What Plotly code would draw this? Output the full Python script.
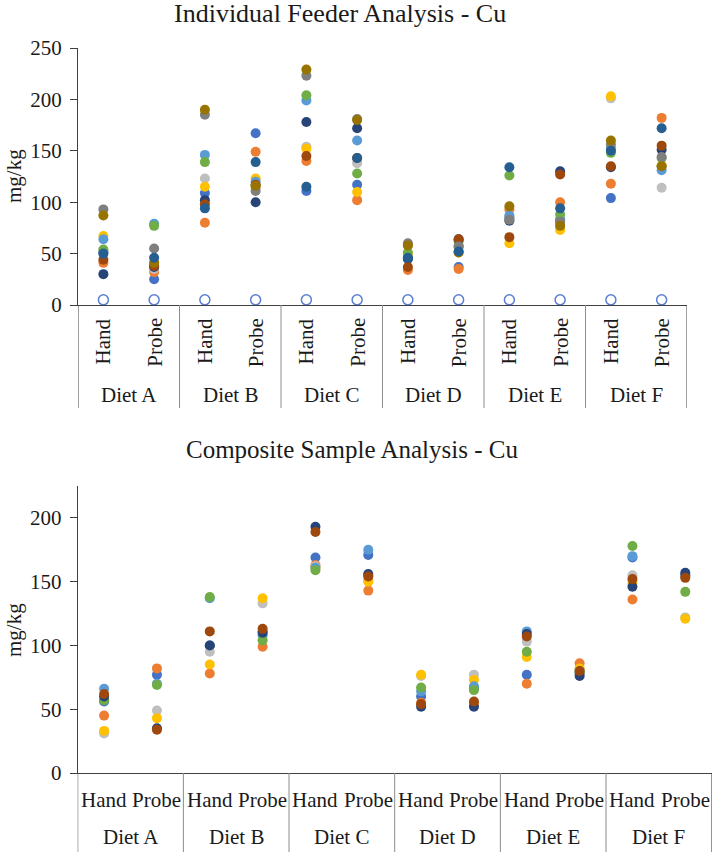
import plotly.graph_objects as go

W, H = 714, 852

diets = ["Diet A", "Diet B", "Diet C", "Diet D", "Diet E", "Diet F"]
methods = ["Hand", "Probe"]

# Individual feeder analysis (order: A-Hand, A-Probe, B-Hand, ... F-Probe)
ind_series = {
    "s1":  [51, 25, 109, 167, 111, 117, 45, 37, 85, 83, 104, 135],
    "s2":  [41, 32, 80, 149, 140, 102, 34, 35, 93, 100, 118, 182],
    "s3":  [53, 35, 123, 114, 154, 138, 58, 57, 84, 77, 201, 114],
    "s4":  [67, 40, 115, 123, 152, 110, 50, 51, 60, 73, 203, 136],
    "s5":  [64, 79, 146, 120, 199, 160, 46, 57, 87, 81, 152, 131],
    "s6":  [54, 77, 139, 116, 204, 128, 51, 62, 126, 88, 148, 143],
    "s7":  [30, 37, 102, 100, 178, 172, 45, 64, 82, 130, 134, 151],
    "s8":  [44, 38, 98, 117, 145, 143, 37, 64, 66, 127, 135, 155],
    "s9":  [93, 55, 185, 111, 223, 181, 60, 57, 83, 81, 156, 144],
    "s10": [87, 41, 190, 116, 229, 180, 58, 51, 96, 77, 160, 135],
    "s11": [50, 46, 94, 139, 115, 143, 46, 52, 134, 94, 150, 172],
}
ind_open = [5, 5, 5, 5, 5, 5, 5, 5, 5, 5, 5, 5]

# Composite sample analysis
comp_series = {
    "s1": [56, 77, 100, 111, 169, 171, 60, 66, 77, 78, 169, 155],
    "s2": [45, 82, 78, 99, 163, 143, 55, 54, 70, 86, 136, 154],
    "s3": [31, 49, 95, 133, 162, 151, 76, 77, 103, 81, 155, 122],
    "s4": [33, 43, 85, 137, 161, 150, 77, 73, 91, 82, 149, 121],
    "s5": [66, 70, 137, 108, 161, 175, 64, 68, 111, 80, 170, 155],
    "s6": [57, 69, 138, 104, 159, 155, 67, 65, 95, 79, 178, 142],
    "s7": [60, 35, 100, 110, 193, 156, 52, 52, 109, 76, 146, 157],
    "s8": [62, 34, 111, 113, 189, 154, 54, 56, 107, 80, 152, 153],
}

colors = {
    "s1": "#4472C4", "s2": "#ED7D31", "s3": "#BFBFBF", "s4": "#FFC000",
    "s5": "#5B9BD5", "s6": "#70AD47", "s7": "#264478", "s8": "#9E480E",
    "s9": "#7F7F7F", "s10": "#997300", "s11": "#255E91",
}

cats = [(d, m) for d in diets for m in methods]
xpos = [i + 0.5 for i in range(len(cats))]

FONT = "Liberation Serif"
AX = "#404040"
SEP = "#8C8C8C"
TXT = "#1a1a1a"

def py(p):  # pixel y -> paper y
    return (H - p) / H

def px(p):
    return p / W

fig = go.Figure()

for k, vals in ind_series.items():
    fig.add_trace(go.Scatter(x=xpos, y=vals, mode="markers", xaxis="x", yaxis="y",
                             marker=dict(size=10, color=colors[k], line=dict(width=0)),
                             showlegend=False, hoverinfo="skip"))
fig.add_trace(go.Scatter(x=xpos, y=ind_open, mode="markers", xaxis="x", yaxis="y",
                         marker=dict(size=10, color="white", line=dict(width=1.5, color="#5B7FD0")),
                         showlegend=False, hoverinfo="skip"))
for k, vals in comp_series.items():
    fig.add_trace(go.Scatter(x=xpos, y=vals, mode="markers", xaxis="x2", yaxis="y2",
                             marker=dict(size=10, color=colors[k], line=dict(width=0)),
                             showlegend=False, hoverinfo="skip"))

ax_common = dict(showgrid=False, zeroline=False, showline=True, linecolor=AX, linewidth=1)
yt = dict(ticks="outside", ticklen=7, tickcolor=AX, tickfont=dict(size=21, family=FONT, color=TXT),
          ticklabelstandoff=4, dtick=50)
fig.update_layout(
    width=W, height=H, margin=dict(l=0, r=0, t=0, b=0, autoexpand=False),
    plot_bgcolor="white", paper_bgcolor="white",
    font=dict(family=FONT, color=TXT),
    xaxis=dict(domain=[px(78), px(687)], range=[0, 12], showticklabels=False, ticks="",
               anchor="y", **ax_common),
    yaxis=dict(domain=[py(305), py(48)], range=[0, 250], anchor="x", **yt, **ax_common),
    xaxis2=dict(domain=[px(77.7), px(711.7)], range=[0, 12], showticklabels=False, ticks="",
                anchor="y2", **ax_common),
    yaxis2=dict(domain=[py(773), py(486)], range=[0, 225], anchor="x2", **yt, **ax_common),
)

shapes = []
ann = []

def note(**kw):
    kw.setdefault("showarrow", False)
    kw.setdefault("xanchor", "center")
    kw.setdefault("yanchor", "middle")
    ann.append(kw)

for g in range(len(diets) + 1):
    col = SEP if 0 < g < len(diets) else AX
    shapes.append(dict(type="line", xref="x", yref="paper", x0=2 * g, x1=2 * g,
                       y0=py(305), y1=py(408), line=dict(color=col, width=1)))
    shapes.append(dict(type="line", xref="x2", yref="paper", x0=2 * g, x1=2 * g,
                       y0=py(773), y1=py(852), line=dict(color=col, width=1)))
for i, (d, m) in enumerate(cats):
    note(x=xpos[i], y=py(316), xref="x", yref="paper", text=m, textangle=-90, yanchor="top",
         font=dict(size=21, family=FONT, color=TXT))
    note(x=xpos[i], y=py(800), xref="x2", yref="paper", text=m,
         font=dict(size=21, family=FONT, color=TXT))
for g, d in enumerate(diets):
    note(x=2 * g + 1, y=py(395), xref="x", yref="paper", text=d,
         font=dict(size=21, family=FONT, color=TXT))
    note(x=2 * g + 1, y=py(837), xref="x2", yref="paper", text=d,
         font=dict(size=21, family=FONT, color=TXT))

note(x=px(340), y=py(13), xref="paper", yref="paper", text="Individual Feeder Analysis - Cu",
     font=dict(size=26, family=FONT, color=TXT))
note(x=px(352), y=py(449), xref="paper", yref="paper", text="Composite Sample Analysis - Cu",
     font=dict(size=25, family=FONT, color=TXT))
note(x=px(14), y=py(176), xref="paper", yref="paper", text="mg/kg", textangle=-90,
     font=dict(size=21, family=FONT, color=TXT))
note(x=px(14), y=py(630), xref="paper", yref="paper", text="mg/kg", textangle=-90,
     font=dict(size=21, family=FONT, color=TXT))

fig.update_layout(shapes=shapes, annotations=ann)
fig.write_html("out.html", config={"displayModeBar": False},
               post_script="document.body.style.margin='0';document.body.style.overflow='hidden';")
